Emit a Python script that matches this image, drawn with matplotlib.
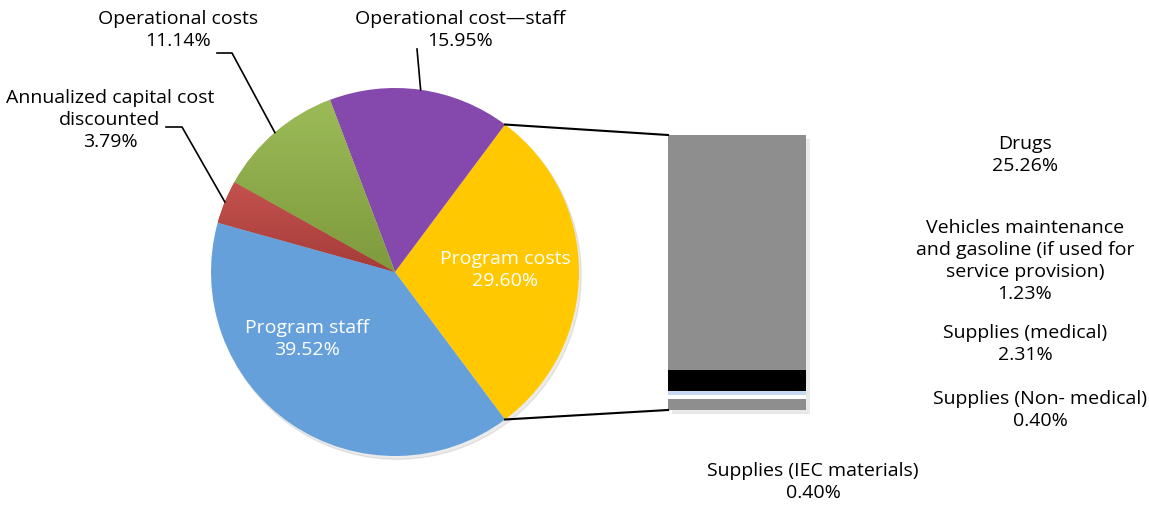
import numpy as np
import matplotlib
matplotlib.use("Agg")
import matplotlib.pyplot as plt
import matplotlib.patheffects as pe
from matplotlib.colors import LinearSegmentedColormap

plt.rcParams["font.family"] = ["Open Sans", "DejaVu Sans"]

# main pie: cost categories (% of total cost)
pie_labels = ["Program costs", "Operational cost\u2014staff", "Operational costs",
              "Annualized capital cost\ndiscounted", "Program staff"]
pie_values = [29.60, 15.95, 11.14, 3.79, 39.52]
pie_top = ["#FFC800", "#8549AD", "#9CBB58", "#C4524E", "#65A0DB"]
pie_bottom = ["#FFC800", "#8549AD", "#7E9A3D", "#A53C39", "#65A0DB"]

# breakdown of program costs, stacked bottom to top
bar_labels = ["Vehicles maintenance\nand gasoline (if used for\nservice provision)",
              "Supplies (IEC materials)", "Supplies (Non- medical)",
              "Supplies (medical)", "Drugs"]
bar_values = [1.23, 0.40, 0.40, 2.31, 25.26]
bar_colors = ["#8E8E8E", "#FFFFFF", "#C6D9F1", "#000000", "#8E8E8E"]

W, H = 1149, 511
fig = plt.figure(figsize=(W / 100, H / 100), dpi=100)

# pie geometry in pixels (y measured from top)
cx, cy, r = 395, 272, 184
ax_pie = fig.add_axes([(cx - r) / W, (H - cy - r) / H, 2 * r / W, 2 * r / H])
start = -pie_values[0] * 360 / 100 / 2
wedges, _ = ax_pie.pie(pie_values, startangle=start, counterclock=True,
                       colors=pie_top, radius=1,
                       wedgeprops=dict(linewidth=0))
ax_pie.axis("off")

# soft shadow under the pie
shadow = plt.Circle((0.012, -0.018), 1.0, color="#000000", alpha=0.08,
                    zorder=0, clip_on=False)
ax_pie.add_patch(shadow)

# vertical gradient fill for the shaded wedges
for w, c0, c1 in zip(wedges, pie_top, pie_bottom):
    if c0 == c1:
        continue
    bb = w.get_path().get_extents()
    cmap = LinearSegmentedColormap.from_list("g", [c1, c0])
    grad = np.linspace(0, 1, 256).reshape(-1, 1)
    im = ax_pie.imshow(grad, cmap=cmap, origin="lower", aspect="auto",
                       extent=[bb.x0, bb.x1, bb.y0, bb.y1], zorder=w.get_zorder() + 0.1)
    im.set_clip_path(w)
ax_pie.set_xlim(-1, 1)
ax_pie.set_ylim(-1, 1)
ax_pie.set_aspect("equal")

# stacked bar for program cost breakdown
bx0, bx1, by0, by1 = 668, 806, 135, 410
ax_bar = fig.add_axes([bx0 / W, (H - by1) / H, (bx1 - bx0) / W, (by1 - by0) / H])
total = sum(bar_values)
ax_bar.bar(0, total, width=1, color="white", linewidth=0, clip_on=False,
           path_effects=[pe.SimplePatchShadow(offset=(3, -3), alpha=0.12), pe.Normal()])
bottom = 0
for v, c in zip(bar_values, bar_colors):
    ax_bar.bar(0, v, width=1, bottom=bottom, color=c, linewidth=0)
    bottom += v
ax_bar.set_xlim(-0.5, 0.5)
ax_bar.set_ylim(0, total)
ax_bar.axis("off")

# overlay in pixel coordinates for labels and leader lines
ov = fig.add_axes([0, 0, 1, 1], zorder=5)
ov.set_xlim(0, W)
ov.set_ylim(H, 0)
ov.axis("off")
ov.patch.set_alpha(0)

fs = 14
ls = 1.3


def edge(deg):
    return cx + r * np.cos(np.radians(deg)), cy - r * np.sin(np.radians(deg))


def label(x, y, s, color="black"):
    ov.text(x, y, s, ha="center", va="center", fontsize=fs, color=color,
            linespacing=ls)


# connectors from the program-costs wedge to the bar
half = pie_values[0] * 360 / 100 / 2
for deg, yb in [(half, by0), (-half, by1)]:
    ex, ey = edge(deg)
    ov.plot([ex, bx0], [ey, yb], color="black", lw=1.5)

# wedge mid angles
angles = np.cumsum([0] + pie_values) * 3.6 + start
mids = (angles[:-1] + angles[1:]) / 2

# outside labels with leader lines
label(460, 30, f"{pie_labels[1]}\n{pie_values[1]:.2f}%")
ex, ey = edge(mids[1])
ov.plot([417, ex], [49, ey], color="black", lw=1.2)

label(178, 30, f"{pie_labels[2]}\n{pie_values[2]:.2f}%")
ex, ey = edge(mids[2])
ov.plot([217, 232, ex], [53, 53, ey], color="black", lw=1.2)

label(110, 120, f"{pie_labels[3]}\n{pie_values[3]:.2f}%")
ex, ey = edge(mids[3])
ov.plot([166, 182, ex], [127, 127, ey], color="black", lw=1.2)

# inside labels
label(505, 270, f"{pie_labels[0]}\n{pie_values[0]:.2f}%", color="white")
label(307, 339, f"{pie_labels[4]}\n{pie_values[4]:.2f}%", color="white")

# bar labels
label(1025, 155, f"{bar_labels[4]}\n{bar_values[4]:.2f}%")
label(1025, 261, f"{bar_labels[0]}\n{bar_values[0]:.2f}%")
label(1025, 344, f"{bar_labels[3]}\n{bar_values[3]:.2f}%")
label(1040, 410, f"{bar_labels[2]}\n{bar_values[2]:.2f}%")
label(813, 482, f"{bar_labels[1]}\n{bar_values[1]:.2f}%")

fig.savefig("out.png", dpi=100)
